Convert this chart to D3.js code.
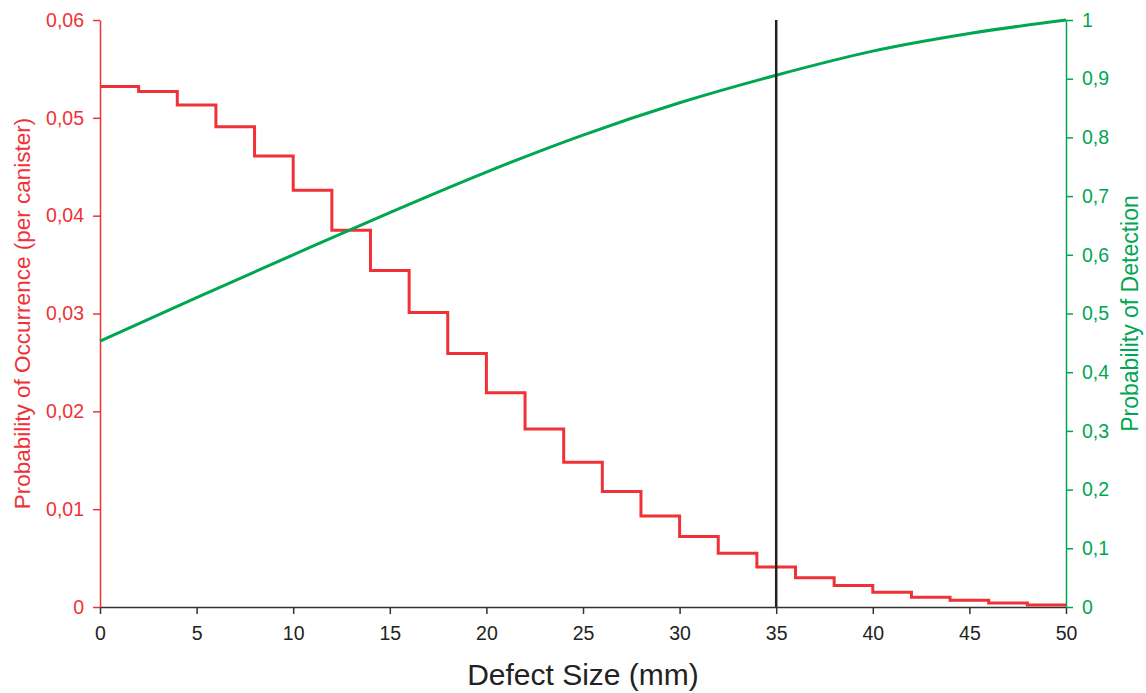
<!DOCTYPE html>
<html>
<head>
<meta charset="utf-8">
<script src="https://cdn.jsdelivr.net/npm/d3@7"></script>
<style>
  body { margin: 0; background: #fff; }
  text { font-family: "Liberation Sans", Arial, sans-serif; }
</style>
</head>
<body>
<div id="chart"></div>
<script>
// step edges (mm) and probability of occurrence per 2 mm bin
var binStarts = [0, 2, 4, 6, 8, 10, 12, 14, 16, 18, 20, 22, 24, 26, 28, 30, 32, 34, 36, 38, 40, 42, 44, 46, 48];
var occurrence = [0.0532, 0.0527, 0.0513, 0.0491, 0.0461, 0.0426, 0.0385, 0.0344, 0.0301, 0.0259, 0.0219,
  0.0182, 0.0148, 0.0118, 0.0093, 0.0072, 0.0055, 0.0041, 0.0030, 0.0022, 0.0015, 0.0010, 0.0007, 0.0004, 0.0002];

// probability of detection curve
var podSize = [0, 5, 10, 15, 20, 25, 30, 35, 40, 45, 50];
var podValue = [0.453, 0.527, 0.600, 0.672, 0.741, 0.804, 0.859, 0.906, 0.947, 0.977, 1.0];

var xTicks = [0, 5, 10, 15, 20, 25, 30, 35, 40, 45, 50];
var leftTicks = [0, 0.01, 0.02, 0.03, 0.04, 0.05, 0.06];
var rightTicks = [0, 0.1, 0.2, 0.3, 0.4, 0.5, 0.6, 0.7, 0.8, 0.9, 1];
var markerSize = 35;

var width = 1146, height = 693;
var margin = {top: 20, right: 80, bottom: 86, left: 100};

var red = "#ee3237", green = "#00a651";

var svg = d3.select("#chart")
    .append("svg")
    .attr("width", width)
    .attr("height", height);

var x = d3.scaleLinear().domain([0, 50]).range([margin.left, width - margin.right]);
var yL = d3.scaleLinear().domain([0, 0.06]).range([height - margin.bottom, margin.top]);
var yR = d3.scaleLinear().domain([0, 1]).range([height - margin.bottom, margin.top]);

var comma = function(d) { return String(d3.format("~g")(+d.toFixed(2))).replace(".", ","); };

// x axis
var xAxis = svg.append("g")
    .attr("transform", "translate(0," + yL(0) + ")")
    .call(d3.axisBottom(x).tickValues(xTicks).tickSize(7).tickSizeOuter(0).tickPadding(12));
xAxis.select(".domain").attr("stroke", "#333").attr("stroke-width", 1.5);
xAxis.selectAll(".tick line").attr("stroke", "#333").attr("stroke-width", 1.5);
xAxis.selectAll(".tick text").attr("fill", "#222").style("font-size", "19.5px");

// left axis
var leftAxis = svg.append("g")
    .attr("transform", "translate(" + x(0) + ",0)")
    .call(d3.axisLeft(yL).tickValues(leftTicks).tickFormat(comma).tickSize(7).tickSizeOuter(0).tickPadding(9));
leftAxis.select(".domain").attr("stroke", red).attr("stroke-width", 1.5);
leftAxis.selectAll(".tick line").attr("stroke", red).attr("stroke-width", 1.5);
leftAxis.selectAll(".tick text").attr("fill", red).style("font-size", "19.5px");

// right axis
var rightAxis = svg.append("g")
    .attr("transform", "translate(" + x(50) + ",0)")
    .call(d3.axisRight(yR).tickValues(rightTicks).tickFormat(comma).tickSize(7).tickSizeOuter(0).tickPadding(9));
rightAxis.select(".domain").attr("stroke", green).attr("stroke-width", 1.5);
rightAxis.selectAll(".tick line").attr("stroke", green).attr("stroke-width", 1.5);
rightAxis.selectAll(".tick text").attr("fill", green).style("font-size", "19.5px");

// step line for occurrence
var stepData = binStarts.map(function(s, i) { return [s, occurrence[i]]; });
stepData.push([50, occurrence[occurrence.length - 1]]);

svg.append("path")
    .datum(stepData)
    .attr("fill", "none")
    .attr("stroke", red)
    .attr("stroke-width", 3)
    .attr("d", d3.line()
      .x(function(d) { return x(d[0]); })
      .y(function(d) { return yL(d[1]); })
      .curve(d3.curveStepAfter));

// detection curve
svg.append("path")
    .datum(podSize.map(function(s, i) { return [s, podValue[i]]; }))
    .attr("fill", "none")
    .attr("stroke", green)
    .attr("stroke-width", 3)
    .attr("d", d3.line()
      .x(function(d) { return x(d[0]); })
      .y(function(d) { return yR(d[1]); })
      .curve(d3.curveMonotoneX));

// vertical marker
svg.append("line")
    .attr("x1", x(markerSize)).attr("x2", x(markerSize))
    .attr("y1", yR(1)).attr("y2", yR(0))
    .attr("stroke", "#222")
    .attr("stroke-width", 2.5);

// titles
svg.append("text")
    .attr("x", (x(0) + x(50)) / 2)
    .attr("y", 685)
    .attr("text-anchor", "middle")
    .attr("fill", "#222")
    .style("font-size", "30px")
    .text("Defect Size (mm)");

svg.append("text")
    .attr("transform", "translate(30," + yL(0.03) + ") rotate(-90)")
    .attr("text-anchor", "middle")
    .attr("fill", red)
    .style("font-size", "22.5px")
    .text("Probability of Occurrence (per canister)");

svg.append("text")
    .attr("transform", "translate(1138," + yR(0.5) + ") rotate(-90)")
    .attr("text-anchor", "middle")
    .attr("fill", green)
    .style("font-size", "23px")
    .text("Probability of Detection");
</script>
</body>
</html>
